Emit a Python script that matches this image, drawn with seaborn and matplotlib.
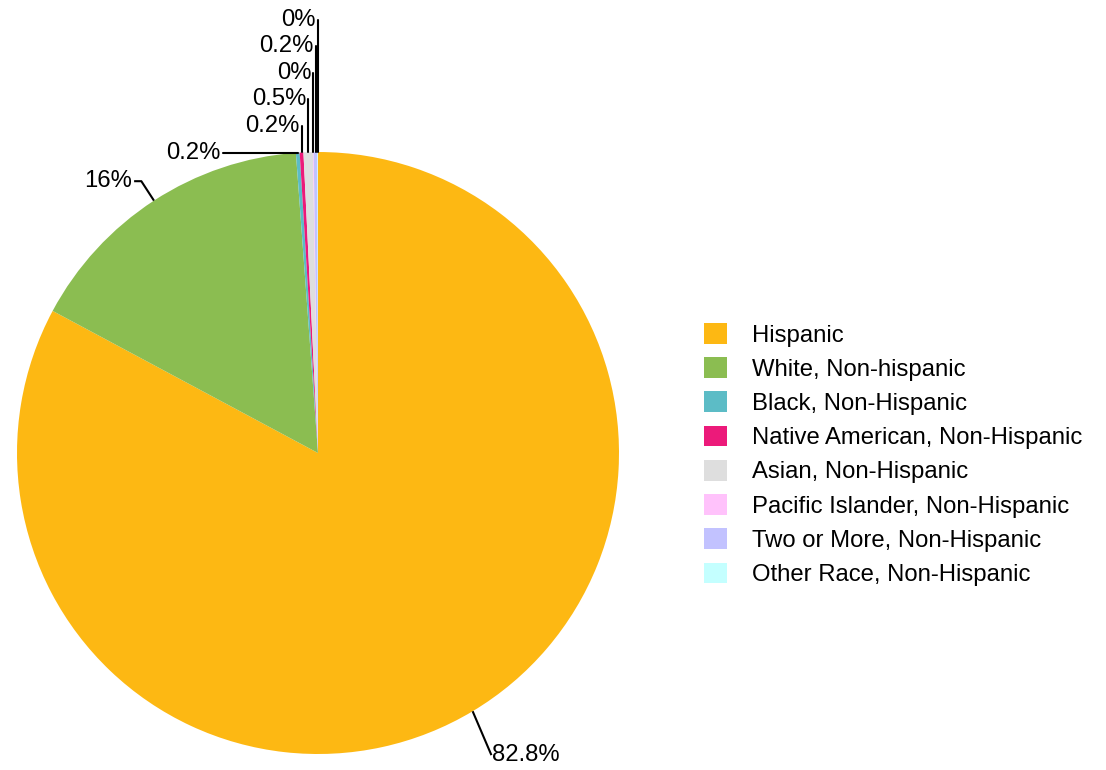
import numpy as np
import matplotlib
matplotlib.use("Agg")
import matplotlib.pyplot as plt
import seaborn as sns
from matplotlib.patches import Patch

# Race / ethnicity shares (percent)
categories = ["Hispanic", "White, Non-hispanic", "Black, Non-Hispanic",
              "Native American, Non-Hispanic", "Asian, Non-Hispanic",
              "Pacific Islander, Non-Hispanic", "Two or More, Non-Hispanic",
              "Other Race, Non-Hispanic"]
shares = [82.8, 16.0, 0.2, 0.2, 0.5, 0.04, 0.2, 0.03]
colors = ["#FDB813", "#8BBD51", "#5CBCC6", "#EC1A7A",
          "#DEDEDE", "#FFC2FB", "#C2C2FF", "#C4FFFF"]

sns.set_style("white")
plt.rcParams['font.family'] = ['Liberation Sans', 'DejaVu Sans']
plt.rcParams['text.color'] = 'black'

W, H = 1106, 770
fig = plt.figure(figsize=(W / 100, H / 100), dpi=100)

# pie geometry in pixels
R_PX, CX, CY, AX_W = 301, 318, 453, 700
ax = fig.add_axes([0, 0, AX_W / W, 1])
wedges, _ = ax.pie(shares, colors=colors, startangle=90, counterclock=False,
                   radius=1, wedgeprops=dict(linewidth=0))
ax.set_xlim(-CX / R_PX, (AX_W - CX) / R_PX)
ax.set_ylim((CY - H) / R_PX, CY / R_PX)
ax.axis("off")

pct = np.array(shares) / sum(shares) * 100
labels = [f"{round(p, 1):g}%" for p in pct]

FS = 17.2
LW = 1.5
# radial length, sideways shift of the leader end, horizontal tick
big_leader = {0: (1.17, -0.025, 0.0), 1: (1.077, 0.0, -0.024)}
step = 0.0877
k = 0
for i, w in enumerate(wedges):
    th = np.deg2rad((w.theta1 + w.theta2) / 2)
    x0, y0 = np.cos(th), np.sin(th)
    if pct[i] >= 1:
        r_out, shift, tick = big_leader[i]
        x1, y1 = r_out * x0 + shift, r_out * y0
        x2 = x1 + tick
        ax.plot([x0, x1, x2], [y0, y1, y1], color="black", lw=LW,
                solid_capstyle="butt", clip_on=False)
        ha = "left" if tick >= 0 else "right"
        gap = 0.003 if tick >= 0 else -0.008
        ax.text(x2 + gap, y1, labels[i], ha=ha, va="center", fontsize=FS)
    else:
        if k == 0:
            x2 = x0 - 0.25
            ax.plot([x0, x2], [y0, y0], color="black", lw=LW, clip_on=False)
            ax.text(x2 - 0.006, y0, labels[i], ha="right", va="center", fontsize=FS)
        else:
            yt = 1.0 + k * step
            ax.plot([x0, x0], [y0, yt], color="black", lw=LW, clip_on=False)
            ax.text(x0 - 0.006, yt, labels[i], ha="right", va="center", fontsize=FS)
        k += 1

handles = [Patch(facecolor=c, edgecolor="none") for c in colors]
fig.legend(handles, categories, loc="upper left",
           bbox_to_anchor=(704 / W, 1 - 323 / H), frameon=False, fontsize=FS,
           handlelength=0.96, handleheight=0.96, handletextpad=1.03,
           labelspacing=0.445, borderpad=0, borderaxespad=0)

fig.savefig("out.png", dpi=100)
